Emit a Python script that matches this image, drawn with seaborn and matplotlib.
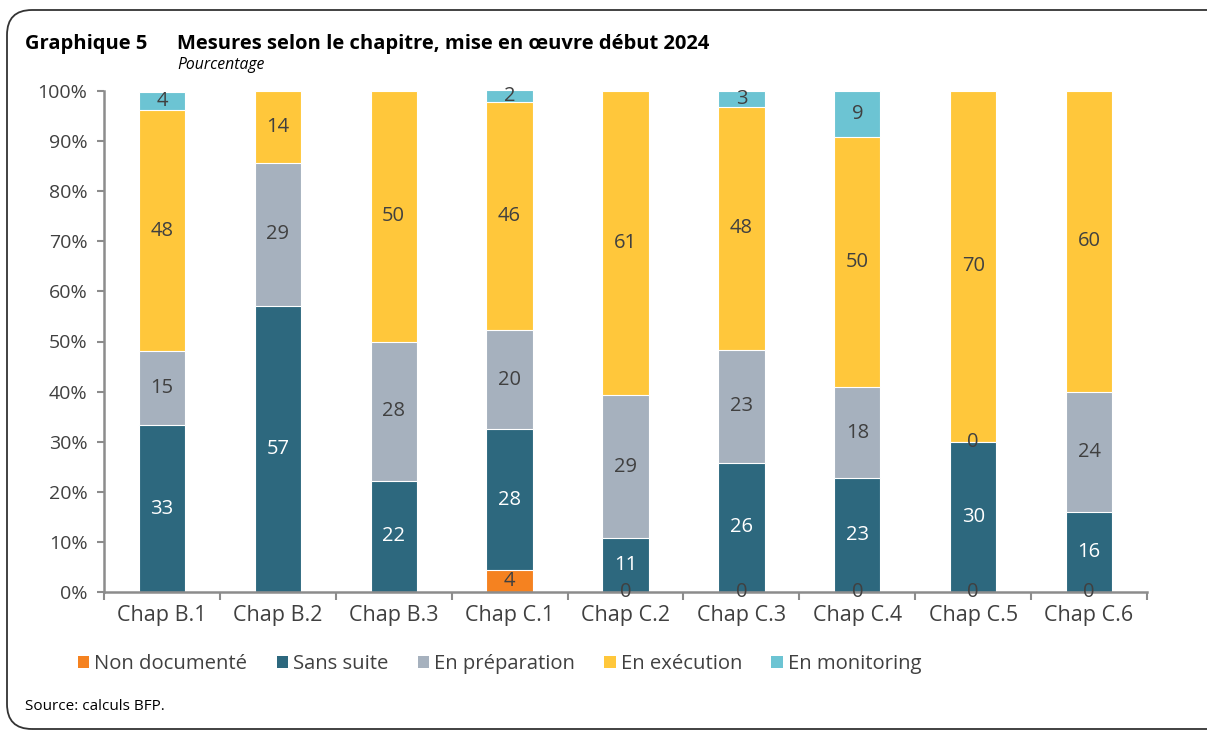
import numpy as np
import pandas as pd
import seaborn as sns
import matplotlib.pyplot as plt
from matplotlib.patches import Patch, FancyBboxPatch

categories = ['Chap B.1', 'Chap B.2', 'Chap B.3', 'Chap C.1', 'Chap C.2',
              'Chap C.3', 'Chap C.4', 'Chap C.5', 'Chap C.6']
non_documente = [np.nan, np.nan, np.nan, 4.3, 0, 0, 0, 0, 0]
sans_suite = [33.3, 57.1, 22.2, 28.3, 10.7, 25.8, 22.7, 30.0, 16.0]
en_preparation = [14.8, 28.6, 27.8, 19.6, 28.6, 22.6, 18.2, 0, 24.0]
en_execution = [48.1, 14.3, 50.0, 45.7, 60.7, 48.4, 50.0, 70.0, 60.0]
en_monitoring = [3.7, np.nan, np.nan, 2.2, np.nan, 3.2, 9.1, np.nan, np.nan]

series = {
    'Non documenté': non_documente,
    'Sans suite': sans_suite,
    'En préparation': en_preparation,
    'En exécution': en_execution,
    'En monitoring': en_monitoring,
}
colors = {
    'Non documenté': '#F58220',
    'Sans suite': '#2D687E',
    'En préparation': '#A6B1BE',
    'En exécution': '#FFC73B',
    'En monitoring': '#6CC4D3',
}
label_colors = {
    'Non documenté': '#404040',
    'Sans suite': 'white',
    'En préparation': '#404040',
    'En exécution': '#404040',
    'En monitoring': '#404040',
}

sns.set_theme(style='white')
plt.rcParams['font.family'] = ['Open Sans', 'DejaVu Sans']

df = pd.DataFrame(series, index=categories)
cum = df.fillna(0).cumsum(axis=1)

fig = plt.figure(figsize=(12.07, 7.31), dpi=100)
ax = fig.add_axes([104 / 1207, 1 - 592 / 731, 1043 / 1207, 501 / 731])

# stacked bars: draw the cumulative totals from the top series down
names = list(series.keys())
for name in reversed(names):
    plot_df = pd.DataFrame({'cat': categories, 'val': cum[name].values})
    sns.barplot(data=plot_df, x='cat', y='val', color=colors[name], width=0.4,
                edgecolor='white', linewidth=0.8, saturation=1, ax=ax)

# segment labels
for name in names:
    for i, cat in enumerate(categories):
        v = df.loc[cat, name]
        if pd.isna(v):
            continue
        mid = cum.loc[cat, name] - v / 2
        ax.text(i, mid, f'{v:.0f}', ha='center', va='center', fontsize=14.5,
                color=label_colors[name])

ax.set_ylim(0, 100)
ax.set_xlim(-0.5, len(categories) - 0.5)
ax.set_yticks(np.arange(0, 101, 10))
ax.set_yticklabels([f'{t}%' for t in range(0, 101, 10)])
ax.set_xlabel('')
ax.set_ylabel('')
ax.set_xticks(range(len(categories)))
ax.set_xticklabels(categories)
ax.set_xticks(np.arange(-0.5, len(categories)), minor=True)
ax.tick_params(axis='x', which='major', length=0, pad=9, labelsize=15.5, labelcolor='#404040')
ax.tick_params(axis='x', which='minor', bottom=True, length=6, width=1.5, color='#8C8C8C')
ax.tick_params(axis='y', left=True, length=5, width=1.5, color='#8C8C8C', labelsize=14,
               labelcolor='#404040', pad=7)
for side in ['top', 'right']:
    ax.spines[side].set_visible(False)
for side in ['left', 'bottom']:
    ax.spines[side].set_color('#8C8C8C')
    ax.spines[side].set_linewidth(1.8)

handles = [Patch(facecolor=colors[n], edgecolor='none', label=n) for n in names]
fig.legend(handles=handles, loc='center left', bbox_to_anchor=(60 / 1207, 1 - 664 / 731),
           ncol=5, frameon=False, fontsize=14.6, handlelength=0.55, handleheight=0.55,
           handletextpad=0.25, columnspacing=1.45, labelcolor='#404040')

fig.text(25 / 1207, 1 - 44 / 731, 'Graphique 5', fontsize=14.5, fontweight='bold',
         va='center', ha='left', color='black')
fig.text(177 / 1207, 1 - 44 / 731, 'Mesures selon le chapitre, mise en œuvre début 2024',
         fontsize=14.5, fontweight='bold', va='center', ha='left', color='black')
fig.text(177 / 1207, 1 - 65 / 731, 'Pourcentage', fontsize=11.3, style='italic',
         va='center', ha='left', color='black')
fig.text(25 / 1207, 1 - 706 / 731, 'Source: calculs BFP.', fontsize=11,
         va='center', ha='left', color='black')

frame = FancyBboxPatch((0.07, 0.02), 12.6, 7.19, boxstyle='round,pad=0,rounding_size=0.25',
                       transform=fig.dpi_scale_trans, facecolor='none',
                       edgecolor='#333333', linewidth=1.3, clip_on=False)
fig.patches.append(frame)

fig.savefig('out.png', dpi=100)
